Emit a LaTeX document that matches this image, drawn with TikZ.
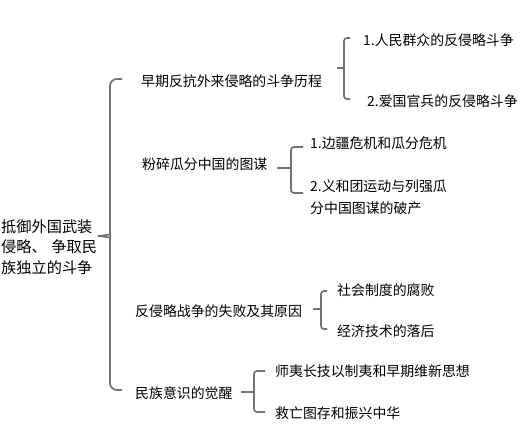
\documentclass[tikz,border=0pt]{standalone}
\usepackage{fontspec}
\setmainfont{Noto Sans CJK SC}
\begin{document}
\begin{tikzpicture}[x=1pt,y=-1pt,
  txt/.style={anchor=west,inner sep=0pt,font=\fontsize{13.9}{22}\selectfont,align=left},
  roottxt/.style={anchor=west,inner sep=0pt,font=\fontsize{15.2}{20.5}\selectfont,align=left},
  br/.style={draw=black!55,line width=1.7pt,rounded corners=7pt},
  brs/.style={draw=black!55,line width=1.7pt,rounded corners=3pt},
  stub/.style={draw=black!55,line width=1.7pt}]
\useasboundingbox (0,0) rectangle (528,429);
% texts
\node[roottxt] (root) at (1,247) {抵御外国武装\\侵略、\hspace{0.3em}争取民\\族独立的斗争};
\node[txt] (a) at (141,81) {早期反抗外来侵略的斗争历程};
\node[txt] (a1) at (363,40) {1.人民群众的反侵略斗争};
\node[txt] (a2) at (367,101) {2.爱国官兵的反侵略斗争};
\node[txt] (b) at (142,164) {粉碎瓜分中国的图谋};
\node[txt] (b1) at (310,143) {1.边疆危机和瓜分危机};
\node[txt] (b2) at (310,197) {2.义和团运动与列强瓜\\分中国图谋的破产};
\node[txt] (c) at (135,311) {反侵略战争的失败及其原因};
\node[txt] (c1) at (337,290) {社会制度的腐败};
\node[txt] (c2) at (337,331) {经济技术的落后};
\node[txt] (d) at (135,393) {民族意识的觉醒};
\node[txt] (d1) at (275,371) {师夷长技以制夷和早期维新思想};
\node[txt] (d2) at (275,413) {救亡图存和振兴中华};
% main brace
\draw[br] (122,79) -- (110,79) -- (110,228) to[out=-90,in=0] (98,236);
\draw[br] (98,236) to[out=0,in=90] (110,244) -- (110,390) -- (122,390);
% brace a
\draw[brs] (350,38) -- (344,38) -- (344,99) -- (350,99);
\draw[stub] (337,68) -- (344,68);
% brace b
\draw[brs] (303,147) -- (291,147) -- (291,193) -- (303,193);
\draw[stub] (277,168) -- (291,168);
% brace c
\draw[brs] (327,291) -- (321,291) -- (321,329) -- (327,329);
\draw[stub] (313,309) -- (321,309);
% brace d
\draw[brs] (265,371) -- (254,371) -- (254,412) -- (265,412);
\draw[stub] (241,392) -- (254,392);
\end{tikzpicture}
\end{document}
